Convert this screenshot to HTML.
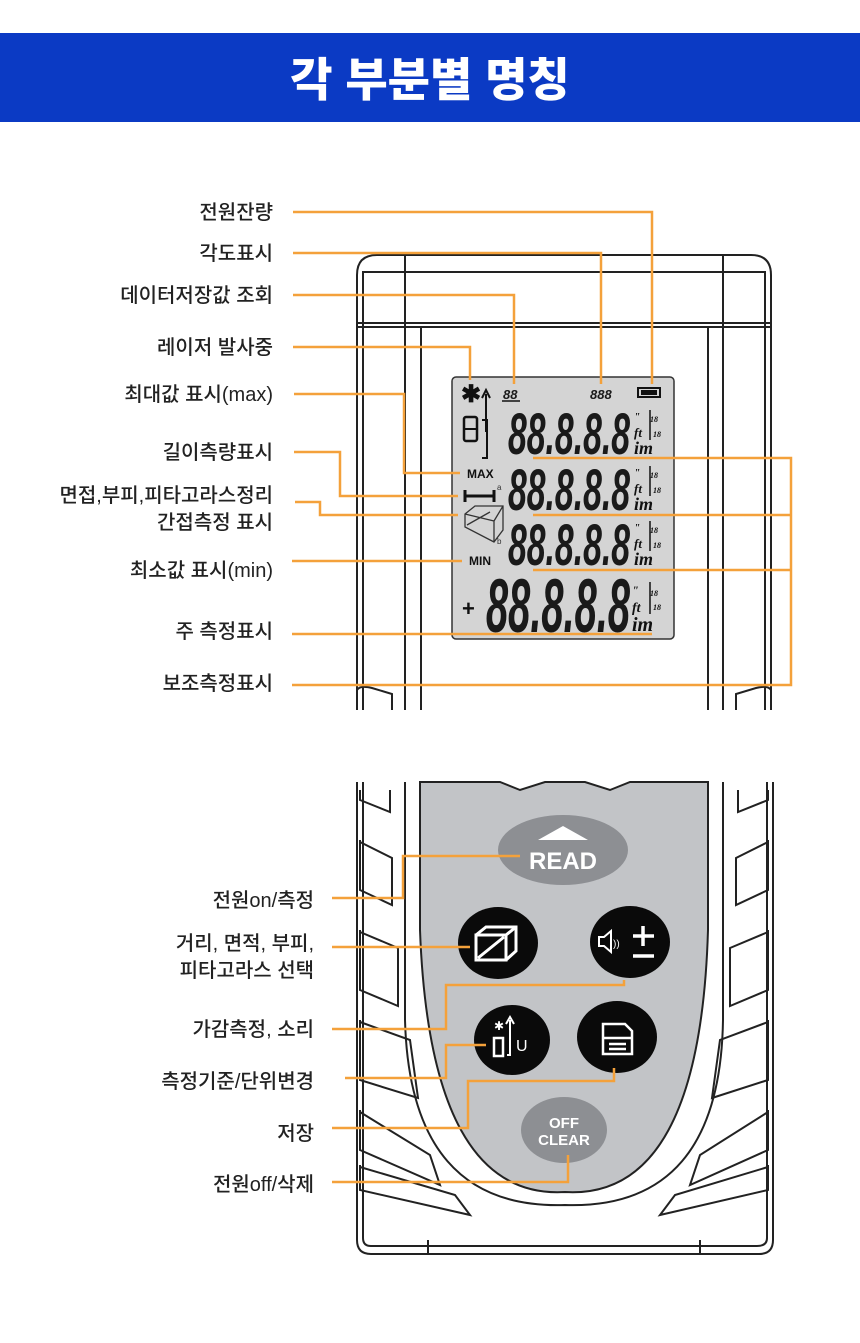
<!DOCTYPE html>
<html><head><meta charset="utf-8"><style>
html,body{margin:0;padding:0;background:#fff;}
svg{display:block;}
.lb{font-family:"Liberation Sans","Noto Sans CJK KR",sans-serif;font-size:20px;fill:#222;text-anchor:end;font-weight:500;}
.o{stroke:#f4a13b;stroke-width:2.5;fill:none;}
.k{stroke:#222;stroke-width:2;fill:none;}
.seg{font-family:"Liberation Sans",sans-serif;font-style:italic;font-weight:bold;fill:#1a1a1a;}
</style></head><body>
<svg width="860" height="1343" viewBox="0 0 860 1343" xmlns="http://www.w3.org/2000/svg">
<rect x="0" y="33" width="860" height="89" fill="#0b3ac4"/>
<text x="430" y="96" text-anchor="middle" font-family="Liberation Sans,Noto Sans CJK KR,sans-serif" font-size="46" font-weight="900" fill="#fff">각 부분별 명칭</text>

<!-- top device -->
<path class="k" d="M357 710 V275 Q357 255 377 255 H751 Q771 255 771 275 V710"/>
<path class="k" d="M363 710 V272 H765 V710" stroke-width="1.5"/>
<line class="k" x1="357" y1="323" x2="771" y2="323"/>
<line class="k" x1="357" y1="327" x2="771" y2="327" stroke-width="1"/>
<line class="k" x1="405" y1="255" x2="405" y2="710" stroke-width="1.5"/>
<line class="k" x1="421" y1="327" x2="421" y2="710" stroke-width="1.5"/>
<line class="k" x1="708" y1="327" x2="708" y2="710" stroke-width="1.5"/>
<line class="k" x1="723" y1="255" x2="723" y2="710" stroke-width="1.5"/>
<path class="k" d="M357 700 L357 690 Q360 685 372 688 L392 694 V710" stroke-width="1.5"/>
<path class="k" d="M771 700 L771 690 Q768 685 756 688 L736 694 V710" stroke-width="1.5"/>
<rect x="452" y="377" width="222" height="262" rx="4" fill="#d4d4d4" stroke="#333" stroke-width="1.5"/>

<!-- LCD contents -->
<text x="461" y="402" font-size="24" font-weight="bold" font-family="Liberation Sans,sans-serif" fill="#111">✱</text>
<path d="M486 432 V394 M482 398 L486 390 L490 398" stroke="#111" stroke-width="2" fill="none"/>
<rect x="464" y="417" width="13" height="24" rx="2" fill="none" stroke="#111" stroke-width="2.5"/>
<line x1="464" y1="429" x2="477" y2="429" stroke="#111" stroke-width="2"/>
<path d="M482 420 H487 V458 H482" stroke="#111" stroke-width="2" fill="none"/>
<text x="503" y="399" class="seg" font-size="13">88</text>
<line x1="502" y1="401" x2="520" y2="401" stroke="#111" stroke-width="1.5"/>
<text x="590" y="399" class="seg" font-size="13" font-weight="normal">888</text>
<rect x="638" y="388" width="22" height="9" fill="none" stroke="#111" stroke-width="2"/>
<rect x="641" y="390" width="16" height="5" fill="#111"/>
<text x="467" y="478" font-family="Liberation Sans,sans-serif" font-weight="bold" font-size="12" fill="#111">MAX</text>
<path d="M465 496 H494 M465 490 V502 M494 490 V502" stroke="#111" stroke-width="3"/>
<text x="497" y="490" font-size="8" font-family="Liberation Sans,sans-serif" fill="#333">a</text>
<path d="M465 514 L475 506 L503 506 L503 530 L494 542 L465 527 Z M465 514 L494 521 L494 542 M494 521 L503 506 M467 525 L490 512" stroke="#333" stroke-width="1.3" fill="none"/>
<text x="497" y="544" font-size="8" font-family="Liberation Sans,sans-serif" fill="#333">b</text>
<text x="469" y="565" font-family="Liberation Sans,sans-serif" font-weight="bold" font-size="12" fill="#111">MIN</text>
<text x="462" y="616" font-family="Liberation Sans,sans-serif" font-weight="bold" font-size="22" fill="#111">+</text>
<g class="seg">
<text x="508" y="454" font-size="58" textLength="122" lengthAdjust="spacingAndGlyphs">88.8.8.8</text>
<text x="508" y="510" font-size="58" textLength="122" lengthAdjust="spacingAndGlyphs">88.8.8.8</text>
<text x="508" y="565" font-size="58" textLength="122" lengthAdjust="spacingAndGlyphs">88.8.8.8</text>
<text x="486" y="632" font-size="76" textLength="144" lengthAdjust="spacingAndGlyphs">88.8.8.8</text>
</g>
<g font-family="Liberation Serif,serif" font-style="italic" font-weight="bold" fill="#111">
<text x="634" y="454" font-size="18">im</text><text x="634" y="437" font-size="13">ft</text><text x="634" y="420" font-size="11">"</text><text x="650" y="422" font-size="8">18</text><text x="653" y="437" font-size="8">18</text>
<text x="634" y="510" font-size="18">im</text><text x="634" y="493" font-size="13">ft</text><text x="634" y="476" font-size="11">"</text><text x="650" y="478" font-size="8">18</text><text x="653" y="493" font-size="8">18</text>
<text x="634" y="565" font-size="18">im</text><text x="634" y="548" font-size="13">ft</text><text x="634" y="531" font-size="11">"</text><text x="650" y="533" font-size="8">18</text><text x="653" y="548" font-size="8">18</text>
<text x="632" y="631" font-size="20">im</text><text x="632" y="612" font-size="14">ft</text><text x="632" y="594" font-size="12">"</text><text x="650" y="596" font-size="8">18</text><text x="653" y="610" font-size="8">18</text>
</g>
<g stroke="#111" stroke-width="1.5"><line x1="650" y1="410" x2="650" y2="440"/><line x1="650" y1="466" x2="650" y2="496"/><line x1="650" y1="521" x2="650" y2="551"/><line x1="650" y1="582" x2="650" y2="614"/></g>

<!-- top labels -->
<g class="lb">
<text x="273" y="219">전원잔량</text>
<text x="273" y="260">각도표시</text>
<text x="273" y="302">데이터저장값 조회</text>
<text x="273" y="354">레이저 발사중</text>
<text x="273" y="401">최대값 표시(max)</text>
<text x="273" y="459">길이측량표시</text>
<text x="273" y="502">면접,부피,피타고라스정리</text>
<text x="273" y="529">간접측정 표시</text>
<text x="273" y="577">최소값 표시(min)</text>
<text x="273" y="638">주 측정표시</text>
<text x="273" y="690">보조측정표시</text>
</g>
<g class="o">
<path d="M293 212 H652 V384"/>
<path d="M293 253 H601 V384"/>
<path d="M293 295 H514 V384"/>
<path d="M293 347 H470 V380"/>
<path d="M294 394 H404 V473 H460"/>
<path d="M294 452 H340 V496 H458"/>
<path d="M295 502 H320 V515 H458"/>
<path d="M292 561 H462"/>
<path d="M292 634 H652"/>
<path d="M292 685 H791 V458 H533 M791 515 H533 M791 570 H533"/>
</g>

<!-- bottom device -->
<path class="k" d="M357 782 V1240 Q357 1254 371 1254 H759 Q773 1254 773 1240 V782"/>
<path class="k" d="M363 782 V1238 Q363 1246 371 1246 H757 Q767 1246 767 1238 V782" stroke-width="1.3"/>
<line class="k" x1="428" y1="1240" x2="428" y2="1254" stroke-width="1.3"/>
<line class="k" x1="700" y1="1240" x2="700" y2="1254" stroke-width="1.3"/>
<line class="k" x1="405" y1="782" x2="405" y2="1020" stroke-width="1.5"/>
<line class="k" x1="723" y1="782" x2="723" y2="1020" stroke-width="1.5"/>
<path d="M420 782 H500 L520 790 L545 782 H585 L610 790 L630 782 H708 V930 Q700 1200 565 1192 Q430 1200 420 930 Z" fill="#c2c4c7" stroke="#222" stroke-width="2"/>
<path class="k" d="M405 1020 Q410 1210 565 1205 Q720 1210 723 1020" stroke-width="1.5"/>
<g class="k" stroke-width="1.8">
<path d="M360 790 V800 L390 812 V790"/><path d="M360 840 V890 L392 905 V858 L360 842"/>
<path d="M360 930 V990 L398 1006 V948 L360 932"/><path d="M360 1020 V1080 L418 1098 L410 1040 L360 1022"/>
<path d="M360 1110 V1150 L440 1185 L430 1155 L360 1112"/><path d="M360 1165 V1190 L470 1215 L455 1195 L360 1167"/>
<path d="M768 790 V800 L738 812 V790"/><path d="M768 840 V890 L736 905 V858 L768 842"/>
<path d="M768 930 V990 L730 1006 V948 L768 932"/><path d="M768 1020 V1080 L712 1098 L720 1040 L768 1022"/>
<path d="M768 1110 V1150 L690 1185 L700 1155 L768 1112"/><path d="M768 1165 V1190 L660 1215 L675 1195 L768 1167"/>
</g>

<ellipse cx="563" cy="850" rx="65" ry="35" fill="#8d8f93"/>
<path d="M538 840 L563 826 L588 840 Z" fill="#fff"/>
<text x="563" y="869" text-anchor="middle" font-family="Liberation Sans,sans-serif" font-weight="bold" font-size="24" fill="#fff">READ</text>
<ellipse cx="498" cy="943" rx="40" ry="36" fill="#0a0a0a"/>
<path d="M476 935 H506 V960 H476 Z M476 935 L486 927 H516 V951 L506 960 M506 935 L516 927 M478 958 L504 937" stroke="#fff" stroke-width="3" fill="none"/>
<ellipse cx="630" cy="942" rx="40" ry="36" fill="#0a0a0a"/>
<path d="M599 937 H604 L611 931 V952 L604 946 H599 Z" stroke="#fff" stroke-width="2" fill="none"/>
<text x="613" y="947" font-size="10" fill="#fff" font-family="Liberation Sans,sans-serif">))</text>
<path d="M633 936 H654 M643 926 V946 M633 956 H654" stroke="#fff" stroke-width="3.5"/>
<ellipse cx="512" cy="1040" rx="38" ry="35" fill="#0a0a0a"/>
<rect x="494" y="1038" width="9" height="18" fill="none" stroke="#fff" stroke-width="2.5"/>
<text x="494" y="1030" font-size="12" fill="#fff" font-family="Liberation Sans,sans-serif">✱</text>
<path d="M507 1055 H510 V1020 M506 1024 L510 1017 L514 1024" stroke="#fff" stroke-width="2" fill="none"/>
<text x="516" y="1051" font-size="16" fill="#fff" font-family="Liberation Sans,sans-serif">U</text>
<ellipse cx="617" cy="1037" rx="40" ry="36" fill="#0a0a0a"/>
<path d="M603 1024 H625 L632 1031 V1054 H603 Z M603 1038 H632 M609 1044 H626 M609 1049 H626" stroke="#fff" stroke-width="2.5" fill="none"/>
<ellipse cx="564" cy="1130" rx="43" ry="33" fill="#8d8f93"/>
<text x="564" y="1128" text-anchor="middle" font-family="Liberation Sans,sans-serif" font-weight="bold" font-size="15" fill="#fff">OFF</text>
<text x="564" y="1145" text-anchor="middle" font-family="Liberation Sans,sans-serif" font-weight="bold" font-size="15" fill="#fff">CLEAR</text>

<g class="lb">
<text x="314" y="907">전원on/측정</text>
<text x="314" y="950">거리, 면적, 부피,</text>
<text x="314" y="977">피타고라스 선택</text>
<text x="314" y="1036">가감측정, 소리</text>
<text x="314" y="1088">측정기준/단위변경</text>
<text x="314" y="1140">저장</text>
<text x="314" y="1191">전원off/삭제</text>
</g>
<g class="o">
<path d="M332 898 H403 V856 H520"/>
<path d="M332 947 H470"/>
<path d="M332 1029 H446 V985 H624 V980"/>
<path d="M345 1078 H446 V1045 H486"/>
<path d="M332 1128 H468 V1081 H614 V1068"/>
<path d="M332 1182 H568 V1155"/>
</g>
</svg>
</body></html>
